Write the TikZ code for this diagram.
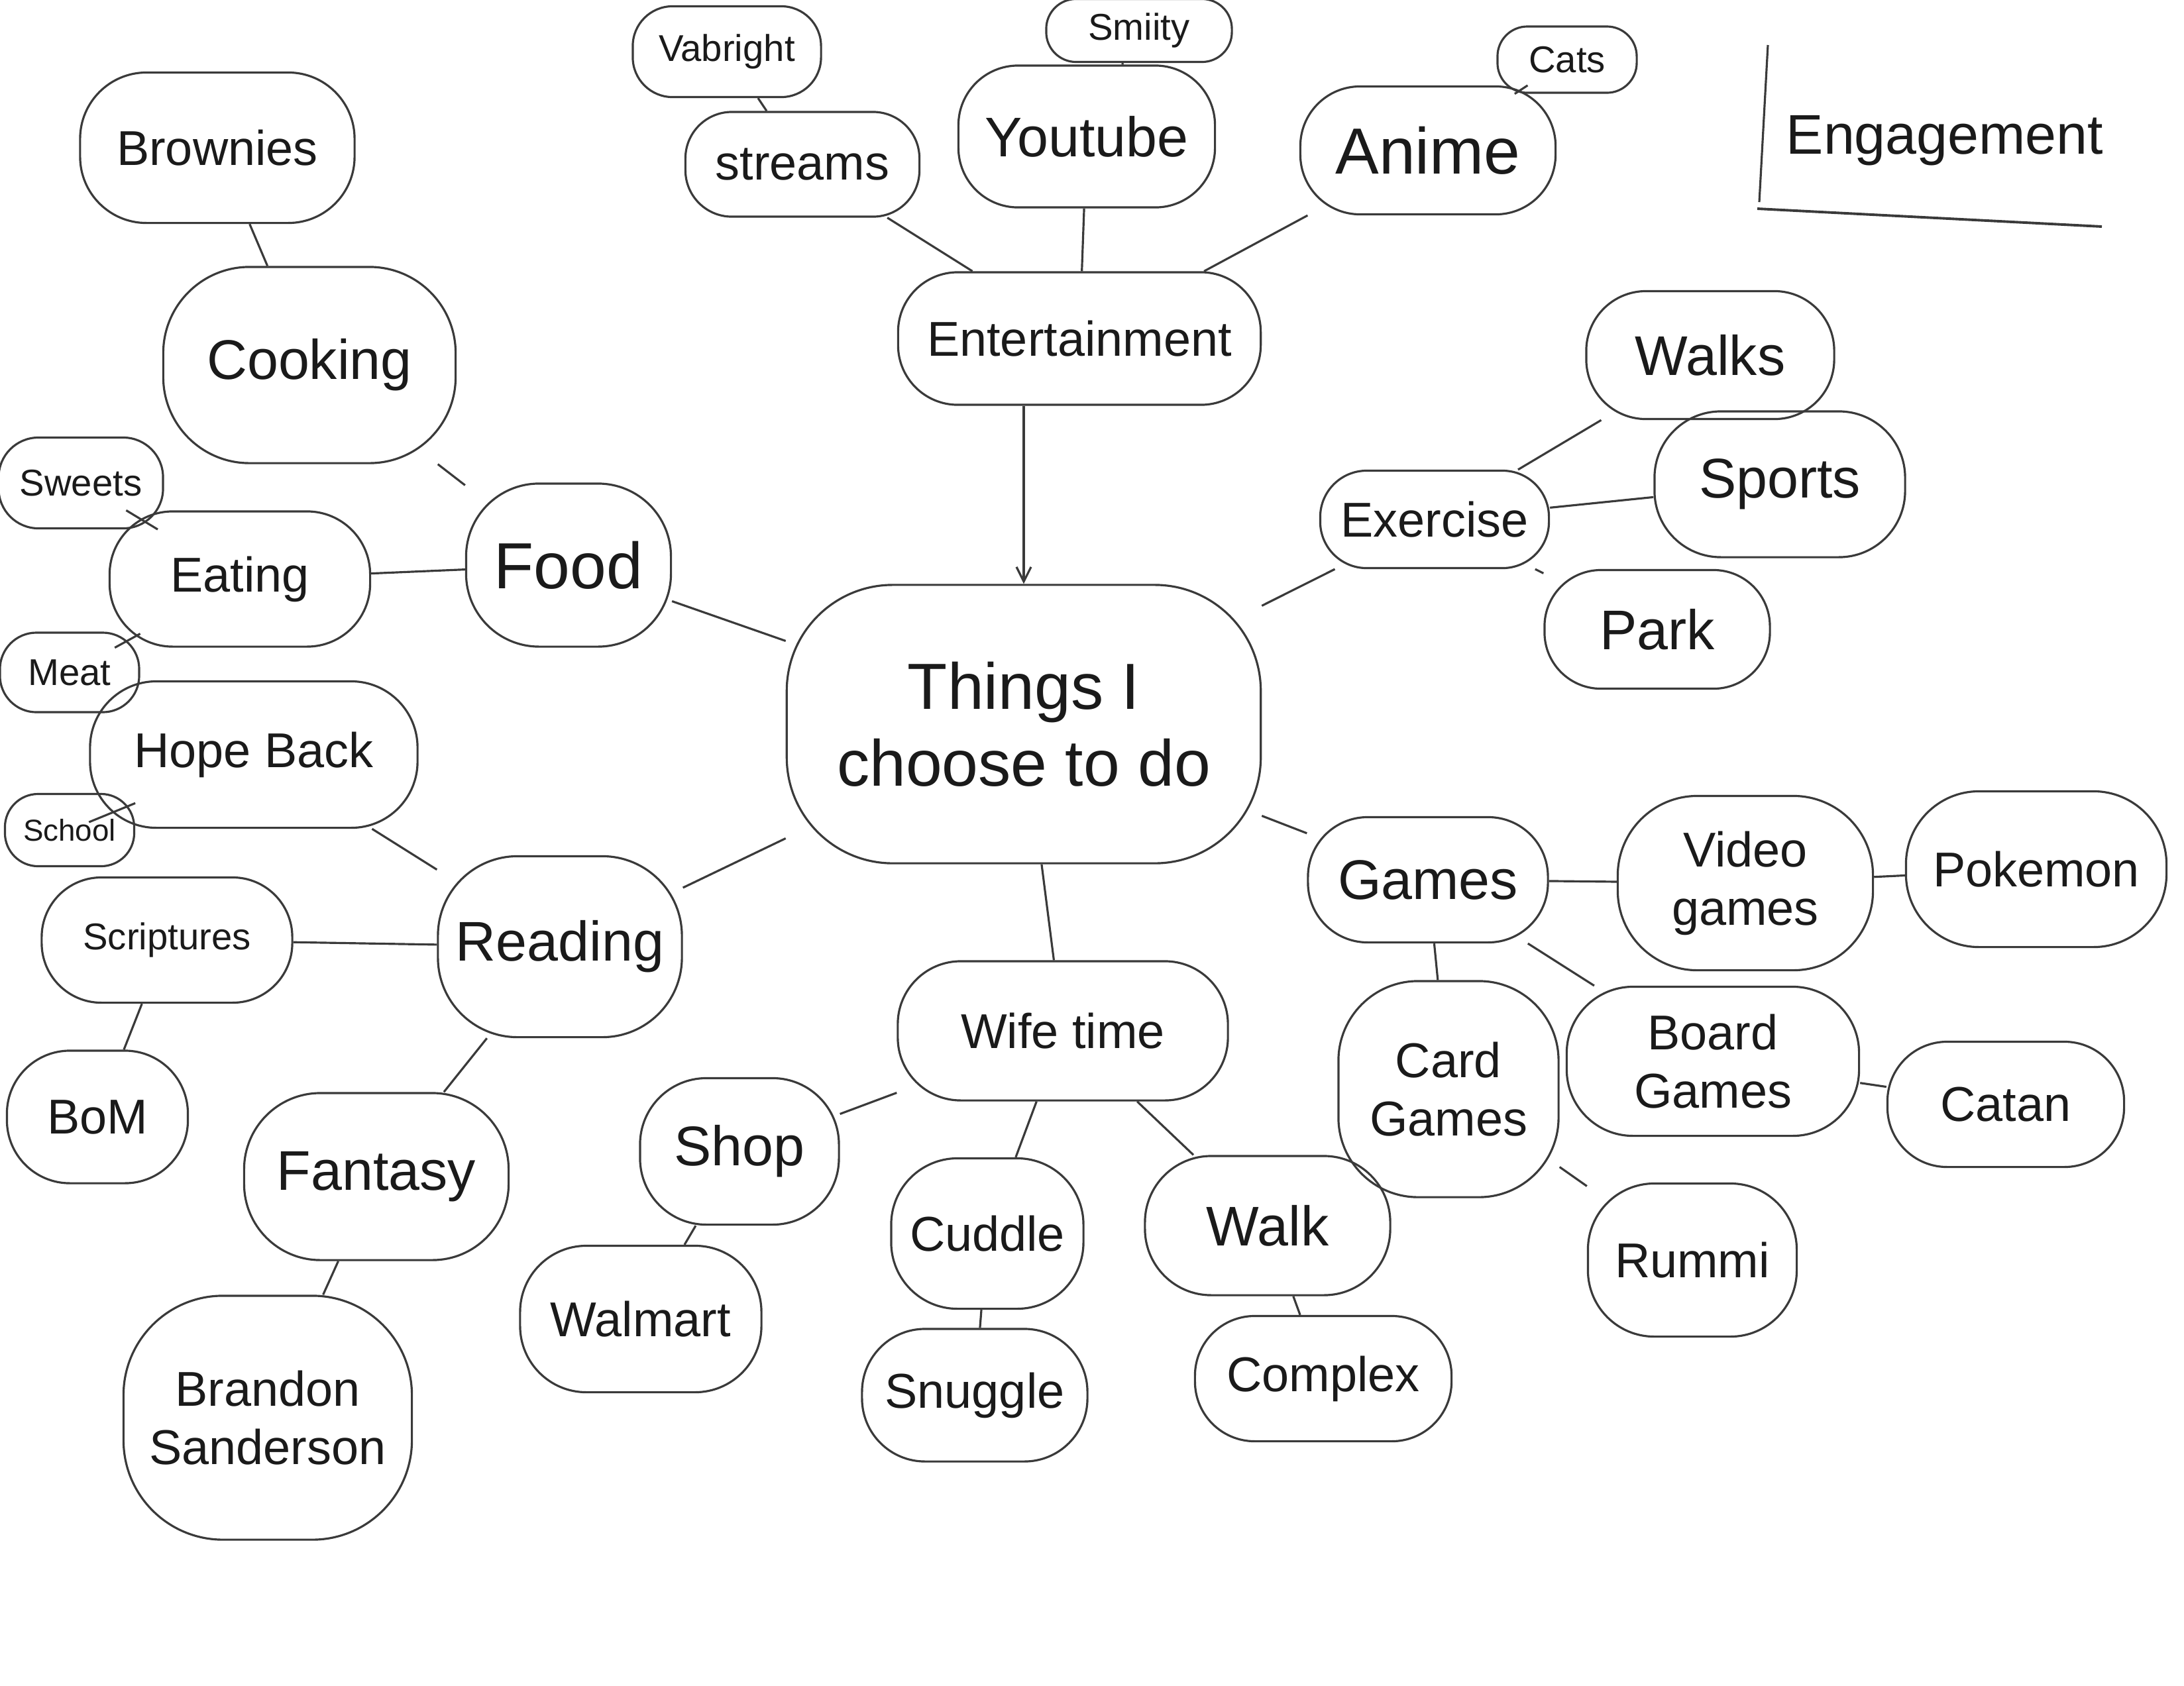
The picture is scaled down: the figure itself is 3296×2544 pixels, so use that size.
\documentclass[tikz,border=0pt]{standalone}
\usepackage{fontspec}
\setmainfont{Liberation Sans}
\usetikzlibrary{arrows.meta}
\definecolor{inkline}{HTML}{3A3A3A}
\definecolor{inktext}{HTML}{1A1A1A}
\tikzset{
  blob/.style={draw=inkline, line width=0.9pt, rounded corners=#1, inner sep=2pt, align=center, text=inktext},
  blob/.default=0.5cm,
  link/.style={draw=inkline, line width=0.9pt},
  fA/.style={font=\fontsize{28}{33}\selectfont},
  fB/.style={font=\fontsize{24}{28}\selectfont},
  fC/.style={font=\fontsize{21}{25}\selectfont},
  fD/.style={font=\fontsize{16}{19}\selectfont},
  fE/.style={font=\fontsize{13}{16}\selectfont},
}
\begin{document}
\begin{tikzpicture}[x=0.01cm, y=-0.01cm]
\fill[white] (0,0) rectangle (3296,2544);
\useasboundingbox (0,0) rectangle (3296,2544);

% central
\node[blob=1.6cm, fA, minimum width=7.15cm, minimum height=4.2cm] (center) at (1545,1093) {Things I\\choose to do};

% entertainment branch
\node[blob=0.9cm, fC, minimum width=5.47cm, minimum height=2.0cm] (ent) at (1629,511) {Entertainment};
\node[blob=0.7cm, fC, minimum width=3.53cm, minimum height=1.58cm] (streams) at (1211,248) {streams};
\node[blob=0.6cm, fD, minimum width=2.84cm, minimum height=1.37cm] (vab) at (1097,78) {Vabright};
\node[blob=0.9cm, fB, minimum width=3.87cm, minimum height=2.14cm] (yt) at (1640,206) {Youtube};
\node[blob=0.45cm, fD, minimum width=2.8cm, minimum height=0.95cm] (smiity) at (1719,46) {Smiity};
\node[blob=0.9cm, fA, minimum width=3.85cm, minimum height=1.93cm] (anime) at (2155,227) {Anime};
\node[blob=0.45cm, fD, minimum width=2.1cm, minimum height=1.0cm] (cats) at (2365,90) {Cats};

% exercise branch
\node[blob=0.7cm, fC, minimum width=3.45cm, minimum height=1.47cm] (exercise) at (2165,784) {Exercise};
\node[blob=0.9cm, fB, minimum width=3.74cm, minimum height=1.93cm] (walks) at (2581,536) {Walks};
\node[blob=1.0cm, fB, minimum width=3.78cm, minimum height=2.2cm] (sports) at (2686,731) {Sports};
\node[blob=0.85cm, fB, minimum width=3.4cm, minimum height=1.79cm] (park) at (2501,950) {Park};

% games branch
\node[blob=0.9cm, fB, minimum width=3.62cm, minimum height=1.89cm] (games) at (2155,1328) {Games};
\node[blob=1.2cm, fC, minimum width=3.85cm, minimum height=2.63cm] (video) at (2634,1333) {Video\\games};
\node[blob=1.1cm, fC, minimum width=3.93cm, minimum height=2.35cm] (pokemon) at (3073,1312) {Pokemon};
\node[blob=1.0cm, fC, minimum width=4.41cm, minimum height=2.25cm] (board) at (2585,1602) {Board\\Games};
\node[blob=0.9cm, fC, minimum width=3.57cm, minimum height=1.89cm] (catan) at (3027,1667) {Catan};
\node[blob=1.2cm, fC, minimum width=3.32cm, minimum height=3.26cm] (card) at (2186,1644) {Card\\Games};
\node[blob=1.0cm, fC, minimum width=3.15cm, minimum height=2.31cm] (rummi) at (2554,1902) {Rummi};

% wife time branch
\node[blob=0.95cm, fC, minimum width=4.98cm, minimum height=2.1cm] (wife) at (1604,1556) {Wife time};
\node[blob=1.0cm, fB, minimum width=3.0cm, minimum height=2.21cm] (shop) at (1116,1738) {Shop};
\node[blob=1.0cm, fC, minimum width=3.64cm, minimum height=2.21cm] (walmart) at (967,1991) {Walmart};
\node[blob=1.0cm, fC, minimum width=2.9cm, minimum height=2.27cm] (cuddle) at (1490,1862) {Cuddle};
\node[blob=0.95cm, fC, minimum width=3.4cm, minimum height=2.0cm] (snuggle) at (1471,2106) {Snuggle};
\node[blob=1.0cm, fB, minimum width=3.7cm, minimum height=2.1cm] (walk) at (1913,1850) {Walk};
\node[blob=0.9cm, fC, minimum width=3.87cm, minimum height=1.89cm] (complex) at (1997,2081) {Complex};

% food branch
\node[blob=1.1cm, fA, minimum width=3.09cm, minimum height=2.46cm] (food) at (858,853) {Food};
\node[blob=1.3cm, fB, minimum width=4.41cm, minimum height=2.96cm] (cooking) at (467,551) {Cooking};
\node[blob=1.0cm, fC, minimum width=4.14cm, minimum height=2.27cm] (brownies) at (328,223) {Brownies};
\node[blob=0.95cm, fC, minimum width=3.93cm, minimum height=2.04cm] (eating) at (362,874) {Eating};
\node[blob=0.6cm, fD, minimum width=2.48cm, minimum height=1.37cm] (sweets) at (122,729) {Sweets};
\node[blob=0.55cm, fD, minimum width=2.1cm, minimum height=1.2cm] (meat) at (105,1015) {Meat};

% reading branch
\node[blob=1.2cm, fB, minimum width=3.68cm, minimum height=2.73cm] (reading) at (845,1429) {Reading};
\node[blob=1.0cm, fC, minimum width=4.94cm, minimum height=2.21cm] (hope) at (383,1139) {Hope Back};
\node[blob=0.5cm, fE, minimum width=1.95cm, minimum height=1.09cm] (school) at (105,1253) {School};
\node[blob=0.9cm, fD, minimum width=3.78cm, minimum height=1.89cm] (scriptures) at (252,1419) {Scriptures};
\node[blob=0.95cm, fC, minimum width=2.73cm, minimum height=2.0cm] (bom) at (147,1686) {BoM};
\node[blob=1.15cm, fB, minimum width=3.99cm, minimum height=2.52cm] (fantasy) at (568,1776) {Fantasy};
\node[blob=1.5cm, fC, minimum width=4.35cm, minimum height=3.68cm] (brandon) at (404,2140) {Brandon\\Sanderson};

% title
\node[fB, text=inktext] (eng) at (2935,212) {Engagement};
\coordinate (barTop) at (2668,68);
\coordinate (barBot) at (2655,305);
\coordinate (ulA) at (2652,315);
\coordinate (ulB) at (3172,342);
\draw[link] (barTop) -- (barBot);
\draw[link, line width=1.1pt] (ulA) -- (ulB);

% connectors
\draw[link, -{Straight Barb[length=0.22cm, width=0.22cm]}] (center.north |- ent.south) -- (center.north);
\draw[link] (ent) -- (streams);
\draw[link] (ent) -- (yt);
\draw[link] (ent) -- (anime);
\draw[link] (streams) -- (vab);
\draw[link] (yt) -- (smiity);
\draw[link] (anime) -- (cats);

\draw[link] (center) -- (exercise);
\draw[link] (exercise) -- (walks);
\draw[link] (exercise) -- (sports);
\draw[link] (exercise) -- (park);

\draw[link] (center) -- (games);
\draw[link] (games) -- (video);
\draw[link] (video) -- (pokemon);
\draw[link] (games) -- (board);
\draw[link] (board) -- (catan);
\draw[link] (games) -- (card);
\draw[link] (card) -- (rummi);

\draw[link] (center) -- (wife);
\draw[link] (wife) -- (shop);
\draw[link] (shop) -- (walmart);
\draw[link] (wife) -- (cuddle);
\draw[link] (cuddle) -- (snuggle);
\draw[link] (wife) -- (walk);
\draw[link] (walk) -- (complex);

\draw[link] (center) -- (food);
\draw[link] (food) -- (cooking);
\draw[link] (cooking) -- (brownies);
\draw[link] (food) -- (eating);
\draw[link] (eating) -- (sweets);
\draw[link] (eating) -- (meat);

\draw[link] (center) -- (reading);
\draw[link] (reading) -- (hope);
\draw[link] (hope) -- (school);
\draw[link] (reading) -- (scriptures);
\draw[link] (scriptures) -- (bom);
\draw[link] (reading) -- (fantasy);
\draw[link] (fantasy) -- (brandon);
\end{tikzpicture}
\end{document}
